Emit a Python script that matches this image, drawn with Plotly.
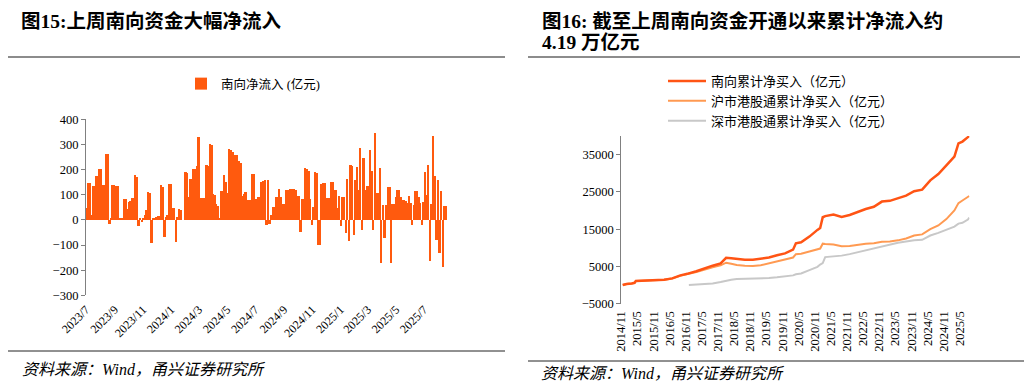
import pandas as pd
import plotly.graph_objects as go

# Page body has an 8px margin, so the figure is 8px smaller and every reference
# pixel position is shifted by 8px.
PAGE_W, PAGE_H = 1032, 388
OFF = 8
W, H = PAGE_W - OFF, PAGE_H - OFF

# ---------------- Figure 15: southbound net inflow (亿元), half-week samples ----------------
flow_start = "2023-07-03"
flow_values = [
    46, 145, 145, 20, 132, 132, 175, 175, 202, 202, 139, 139, 260, 260, -16, 5, 139, 139, 135, 135,
    3, 3, 3, 82, 82, 44, 69, 72, 86, 86, 177, 170, -26, 5, -8, 3, 20, 40, 110, 105,
    -95, 5, 5, 10, 16, 16, 138, 130, -69, 10, 20, 142, 140, 46, 46, -90, 10, 42, 40, 0,
    0, 189, 185, 90, 163, 160, 201, 200, 215, 330, 86, 86, 86, 86, 218, 215, 300, 295, 100, 99,
    60, 55, 5, 112, 112, 177, 150, 106, 280, 275, 270, 258, 255, 255, 231, 225, 93, 100, 108, 77,
    77, 77, 182, 182, 80, 82, 90, 90, 148, 155, 159, -20, 159, -17, 20, 50, 50, 90, 90, 122,
    90, 60, 60, 116, 116, 116, 120, 120, 120, 118, 95, 95, -48, 82, 82, 205, 200, 192, 80, -20,
    50, 190, 187, -100, -100, 143, 145, 145, 87, 87, 87, 148, 148, 119, 119, 46, 92, -26, 90, 90,
    -53, 161, -86, 217, 214, -63, 159, 209, 119, 283, -40, 245, 119, 135, 135, 275, 192, -40, 344, 106,
    106, 205, -172, 56, -73, 56, 130, 130, -172, 63, 63, 90, 116, 116, 90, 77, 77, 74, 66, 92,
    66, -20, 58, 115, 115, 90, 66, -20, 69, 188, 99, 218, -165, 60, 333, 175, -80, 159, -132, 112,
    -188, 53, 53,
]
flow_dates = pd.date_range(flow_start, periods=len(flow_values), freq="84h")
flow_ticks_start = "2023-07-01"

# ---------------- Figure 16: cumulative southbound net buying (亿元) ----------------
cum_dates = [
    "2014-11-17", "2014-12-31", "2015-02-27", "2015-03-31", "2015-04-15", "2015-05-29",
    "2015-08-31", "2015-11-30", "2016-02-29", "2016-05-31", "2016-08-31", "2016-11-30",
    "2016-12-05", "2017-02-28", "2017-05-31", "2017-08-31", "2017-11-30", "2018-01-31",
    "2018-03-30", "2018-05-31", "2018-08-31", "2018-11-30", "2019-02-28", "2019-05-31",
    "2019-08-30", "2019-11-29", "2020-02-28", "2020-03-31", "2020-05-29", "2020-08-31",
    "2020-11-30", "2020-12-31", "2021-01-29", "2021-02-26", "2021-05-31", "2021-08-31",
    "2021-11-30", "2022-02-28", "2022-05-31", "2022-08-31", "2022-11-30", "2023-02-28",
    "2023-05-31", "2023-08-31", "2023-11-30", "2024-02-29", "2024-05-31", "2024-08-30",
    "2024-11-29", "2025-02-28", "2025-04-15", "2025-05-30", "2025-07-31", "2025-08-15",
]
south_cum = [
    0, 300, 450, 600, 1100, 1150, 1200, 1300, 1450, 1800, 2600, 3100,
    3150, 3700, 4500, 5200, 5800, 7300, 7200, 7000, 6800, 6800, 7000, 7400,
    8000, 8500, 9500, 11200, 11500, 13000, 14800, 15300, 18200, 18500, 18900, 18300,
    18800, 19600, 20400, 21000, 22400, 22600, 23400, 24000, 25200, 25600, 28100, 29800,
    32100, 34500, 38000, 38500, 39700, 40000,
]
sh_cum = [
    0, 300, 450, 600, 1100, 1150, 1200, 1280, 1430, 1750, 2500, 3000,
    3050, 3500, 4200, 4800, 5300, 6000, 5700, 5400, 5200, 5100, 5300, 5800,
    6200, 6700, 7400, 8300, 8400, 9000, 9600, 9800, 11100, 11000, 10900, 10400,
    10500, 10800, 11100, 11200, 11600, 11700, 12000, 12500, 13300, 13600, 15000, 16000,
    17700, 20000, 22000, 22700, 23500, 23900,
]
sz_cum = [
    None, None, None, None, None, None, None, None, None, None, None, None,
    0, 100, 250, 450, 800, 1200, 1450, 1600, 1650, 1700, 1750, 1900,
    2100, 2350, 2600, 2900, 3100, 4000, 4900, 5500, 5900, 7500, 7700, 7900,
    8300, 8800, 9350, 9800, 10450, 10900, 11350, 11700, 12050, 12150, 13300, 14000,
    14900, 15700, 16500, 16700, 17600, 18100,
]
cum_ticks_start = "2014-11-01"

# ---------------- styles ----------------
BAR = "#FF5A0E"
RED = "#FF5414"
ORANGE = "#FF9A52"
GRAY = "#C8C8C8"
SERIF = "Liberation Serif, Noto Sans CJK SC, serif"
CJK = "Liberation Serif, Noto Sans CJK SC"


def fx(p):
    return max(0.0, (p - OFF) / W)


def fy(p):
    return min(1.0, 1 - (p - OFF) / H)


DAY_MS = 86400000

fig = go.Figure()

# left bars
fig.add_trace(go.Bar(
    x=flow_dates, y=flow_values, name="南向净流入 (亿元)",
    marker=dict(color=BAR, line=dict(width=0)), width=4 * DAY_MS,
    xaxis="x", yaxis="y", legend="legend",
))

# right lines (draw gray first, red on top)
fig.add_trace(go.Scatter(x=cum_dates, y=sz_cum, name="深市港股通累计净买入（亿元）", mode="lines",
                         line=dict(color=GRAY, width=2), xaxis="x3", yaxis="y3", legend="legend2",
                         legendrank=3))
fig.add_trace(go.Scatter(x=cum_dates, y=sh_cum, name="沪市港股通累计净买入（亿元）", mode="lines",
                         line=dict(color=ORANGE, width=2), xaxis="x3", yaxis="y3", legend="legend2",
                         legendrank=2))
fig.add_trace(go.Scatter(x=cum_dates, y=south_cum, name="南向累计净买入（亿元）", mode="lines",
                         line=dict(color=RED, width=2.5), xaxis="x3", yaxis="y3", legend="legend2",
                         legendrank=1))

# domains (pixel-based)
ly_dom = [fy(295.3), fy(119.3)]
ry_dom = [fy(303.7), fy(136)]
l_range = [-300, 400]
r_range = [-5000, 40000]
l_zero = ly_dom[0] + (0 - l_range[0]) / (l_range[1] - l_range[0]) * (ly_dom[1] - ly_dom[0])
r_zero = ry_dom[0] + (0 - r_range[0]) / (r_range[1] - r_range[0]) * (ry_dom[1] - ry_dom[0])

l_xrange = [pd.Timestamp(flow_ticks_start), flow_dates[-1] + pd.Timedelta(hours=36)]
r_xrange = [pd.Timestamp(cum_ticks_start), pd.Timestamp(cum_dates[-1]) + pd.Timedelta(days=3)]

tickfont = dict(family=SERIF, size=12.5, color="#000")

fig.update_layout(
    width=W, height=H,
    margin=dict(l=0, r=0, t=0, b=0),
    paper_bgcolor="white", plot_bgcolor="white",
    bargap=0, showlegend=True,
    xaxis=dict(domain=[fx(86), fx(447)], anchor="y", type="date", range=l_xrange,
               tick0=flow_ticks_start, dtick="M2", tickformat="%Y/%-m", tickangle=-45,
               showline=False, ticks="", showgrid=False, zeroline=False,
               tickfont=dict(family=SERIF, size=12, color="#000"), automargin=False,
               ticklabelstandoff=4),
    xaxis2=dict(overlaying="x", anchor="free", position=l_zero, type="date", range=l_xrange,
                tick0=flow_ticks_start, dtick="M2", showticklabels=False,
                showline=True, linecolor="#4a2a1a", linewidth=1.5, ticks="outside",
                ticklen=4, tickcolor="#404040", showgrid=False, zeroline=False, automargin=False),
    yaxis=dict(domain=ly_dom, anchor="x", range=l_range, dtick=100, tick0=0,
               showline=True, linecolor="#808080", linewidth=1.2, ticks="outside", ticklen=4,
               tickcolor="#808080", showgrid=False, zeroline=False, tickfont=tickfont,
               automargin=False),
    xaxis3=dict(domain=[fx(621.3), fx(969.5)], anchor="y3", type="date", range=r_xrange,
                tick0=cum_ticks_start, dtick="M6", tickformat="%Y/%-m", tickangle=-90,
                showline=False, ticks="", showgrid=False, zeroline=False,
                tickfont=dict(family=SERIF, size=12.5, color="#000"), automargin=False,
                ticklabelstandoff=4),
    xaxis4=dict(overlaying="x3", anchor="free", position=r_zero, type="date", range=r_xrange,
                tick0=cum_ticks_start, dtick="M6", showticklabels=False,
                showline=True, linecolor="#7f7f7f", linewidth=1.2, ticks="outside",
                ticklen=4, tickcolor="#7f7f7f", showgrid=False, zeroline=False, automargin=False),
    yaxis3=dict(domain=ry_dom, anchor="x3", range=r_range, dtick=10000, tick0=-5000,
                tickformat="d",
                showline=True, linecolor="#808080", linewidth=1.2, ticks="outside", ticklen=4,
                tickcolor="#808080", showgrid=False, zeroline=False, tickfont=tickfont,
                automargin=False),
    legend=dict(x=fx(253), xanchor="center", y=fy(84), yanchor="middle", orientation="h",
                font=dict(family=CJK, size=12.5, color="#000"), bgcolor="rgba(0,0,0,0)",
                itemwidth=30),
    legend2=dict(x=fx(663), xanchor="left", y=fy(66), yanchor="top", orientation="v",
                 font=dict(family=CJK, size=13, color="#000"), bgcolor="rgba(0,0,0,0)",
                 itemwidth=38, tracegroupgap=0),
)

# titles (top-anchored at the page's drawable top edge), sources, rules
titles = [
    ("<b>图15:上周南向资金大幅净流入</b>", 19, 8, "top"),
    ("<b>图16: 截至上周南向资金开通以来累计净流入约</b>", 540, 8, "top"),
    ("<b>4.19 万亿元</b>", 540, 43, "middle"),
]
for txt, tx, ty, ya in titles:
    fig.add_annotation(text=txt, x=fx(tx), y=fy(ty), xref="paper", yref="paper",
                       xanchor="left", yanchor=ya, showarrow=False,
                       font=dict(family=CJK, size=19.5, color="#000"))

for sx, sy in [(20, 369), (539, 373)]:
    fig.add_annotation(text="<i>资料来源：Wind，甬兴证券研究所</i>", x=fx(sx), y=fy(sy),
                       xref="paper", yref="paper", xanchor="left", yanchor="middle",
                       showarrow=False, font=dict(family=CJK, size=16, color="#000"))

rules = [
    (6, 505, 57, "#8c8c8c", 2),
    (528, 1020, 57, "#8c8c8c", 2),
    (6, 505, 351, "#222", 1),
    (528, 1026, 361, "#222", 1),
]
for x0, x1, yy, col, wd in rules:
    fig.add_shape(type="line", xref="paper", yref="paper", x0=fx(x0), x1=fx(x1),
                  y0=fy(yy), y1=fy(yy), line=dict(color=col, width=wd))

fig.write_html("out.html")
